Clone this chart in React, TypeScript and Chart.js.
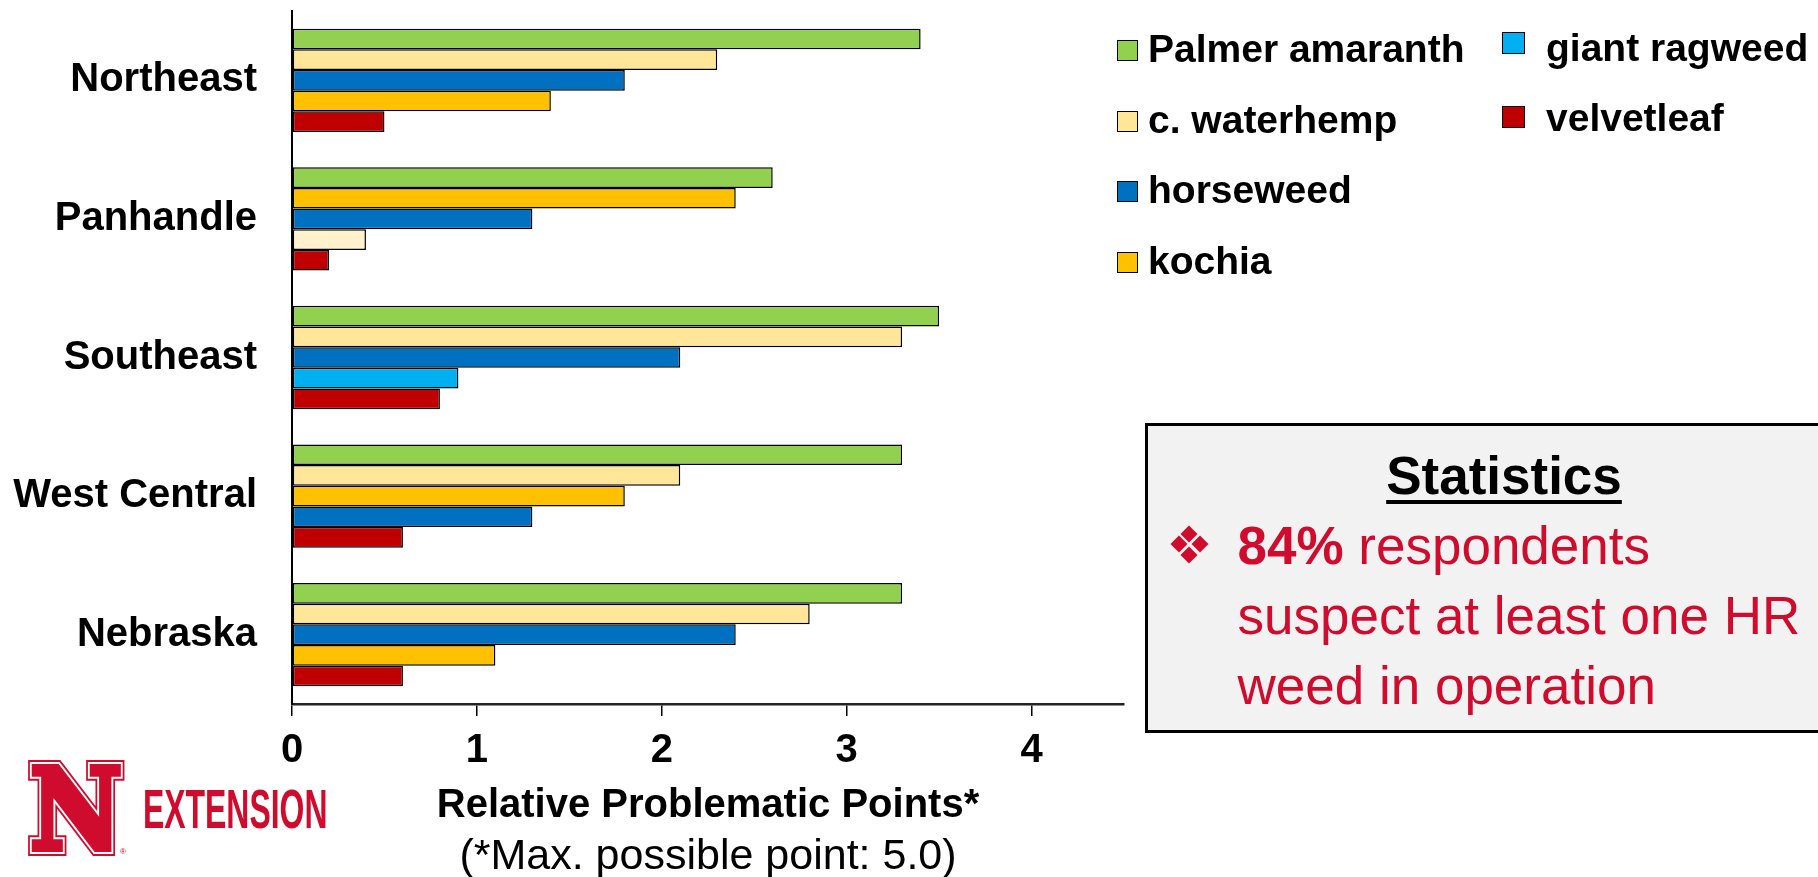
import React, { useEffect, useRef } from 'react';
import { Chart, registerables } from 'chart.js';

Chart.register(...registerables);

// ---------------- data ----------------
const categories = ['Northeast', 'Panhandle', 'Southeast', 'West Central', 'Nebraska'];
const seriesNames = ['Palmer amaranth', 'c. waterhemp', 'horseweed', 'kochia', 'giant ragweed', 'velvetleaf'];
const palmerAmaranth = [3.4, 2.6, 3.5, 3.3, 3.3];
const waterhemp = [2.3, 0.4, 3.3, 2.1, 2.8];
const horseweed = [1.8, 1.3, 2.1, 1.3, 2.4];
const kochia = [1.4, 2.4, null, 1.8, 1.1];
const giantRagweed = [null, null, 0.9, null, null];
const velvetleaf = [0.5, 0.2, 0.8, 0.6, 0.6];
// order of the bars (top to bottom) inside each region, as indexes into seriesNames
const barOrder = [
  [0, 1, 2, 3, 5],
  [0, 3, 2, 1, 5],
  [0, 1, 2, 4, 5],
  [0, 1, 3, 2, 5],
  [0, 1, 2, 3, 5],
];
const xTickValues = [0, 1, 2, 3, 4];
const xMax = 4.5;
const xTitle = 'Relative Problematic Points*';
const xSubtitle = '(*Max. possible point: 5.0)';

// ---------------- styles ----------------
const seriesValues = [palmerAmaranth, waterhemp, horseweed, kochia, giantRagweed, velvetleaf];
const seriesColors = ['#92D050', '#FFE699', '#0070C0', '#FFC000', '#00B0F0', '#C00000'];
const paleWaterhemp = '#FFF2CC';
const RED = '#D00C2E';
const FONT = '"Liberation Sans", Arial, Helvetica, sans-serif';

function colorFor(seriesIdx: number, catIdx: number) {
  if (seriesIdx === 1 && catIdx === 1) return paleWaterhemp;
  return seriesColors[seriesIdx];
}

const subtitlePlugin = {
  id: 'xSubtitle',
  afterDraw(chart: any) {
    const { ctx, chartArea } = chart;
    ctx.save();
    ctx.font = `43px ${FONT}`;
    ctx.fillStyle = '#000';
    ctx.textAlign = 'center';
    ctx.textBaseline = 'middle';
    ctx.fillText(xSubtitle, (chartArea.left + chartArea.right) / 2, 857);
    ctx.restore();
  },
};

function BarChart() {
  const ref = useRef<HTMLCanvasElement | null>(null);
  useEffect(() => {
    if (!ref.current) return;
    Chart.defaults.font.family = FONT;
    const slots = [0, 1, 2, 3, 4];
    const datasets = slots.map((s) => ({
      label: 'slot ' + (s + 1),
      data: categories.map((_, i) => seriesValues[barOrder[i][s]][i] as number),
      backgroundColor: categories.map((_, i) => colorFor(barOrder[i][s], i)),
      borderColor: '#000',
      borderWidth: 1.5,
      borderSkipped: false as any,
      categoryPercentage: 0.745,
      barPercentage: 1,
    }));
    const chart = new Chart(ref.current, {
      type: 'bar',
      data: { labels: categories, datasets },
      options: {
        indexAxis: 'y',
        animation: false,
        responsive: false,
        devicePixelRatio: 1,
        layout: { padding: { top: 11, right: 6, left: 0, bottom: 0 } },
        plugins: { legend: { display: false }, tooltip: { enabled: false } },
        scales: {
          x: {
            type: 'linear',
            min: 0,
            max: xMax,
            afterBuildTicks: (scale: any) => {
              scale.ticks = xTickValues.map((v) => ({ value: v }));
            },
            afterFit: (scale: any) => {
              scale.height = 173;
              scale.paddingLeft = 0;
              scale.paddingRight = 0;
            },
            grid: {
              display: true,
              drawOnChartArea: false,
              drawTicks: true,
              tickLength: 12,
              color: '#000',
              lineWidth: 1.5,
            },
            border: { display: true, color: '#222', width: 2.5 },
            ticks: {
              padding: 11,
              color: '#000',
              font: { size: 40, weight: 'bold' },
              maxRotation: 0,
            },
            title: {
              display: true,
              text: xTitle,
              color: '#000',
              font: { size: 40, weight: 'bold' },
              padding: { top: 0, bottom: 47 },
            },
          },
          y: {
            afterFit: (scale: any) => {
              scale.width = 292;
              scale.paddingTop = 0;
              scale.paddingBottom = 0;
            },
            grid: { display: false },
            border: { display: true, color: '#000', width: 2 },
            ticks: {
              padding: 27,
              color: '#000',
              font: { size: 40, weight: 'bold' },
            },
          },
        },
      } as any,
      plugins: [subtitlePlugin],
    });
    return () => chart.destroy();
  }, []);
  return (
    <canvas
      ref={ref}
      width={1130}
      height={877}
      style={{ position: 'absolute', left: 0, top: 0, width: 1130, height: 877 }}
    />
  );
}

// legend layout: [seriesIndex, squareLeft, squareTop, squareW, squareH, textLeft, baseline]
const legendLayout: [number, number, number, number, number, number, number][] = [
  [0, 1117, 40, 21, 21, 1148, 62],
  [1, 1117, 111, 21, 21, 1148, 133],
  [2, 1117, 181, 21, 21, 1148, 203],
  [3, 1117, 252, 21, 21, 1148, 273.5],
  [4, 1502, 32, 23, 22, 1546, 61],
  [5, 1502, 106, 23, 22, 1546, 131],
];

function Legend() {
  return (
    <>
      {legendLayout.map(([si, sl, st, sw, sh, tl, bl]) => (
        <React.Fragment key={si}>
          <div
            style={{
              position: 'absolute',
              left: sl,
              top: st,
              width: sw,
              height: sh,
              boxSizing: 'border-box',
              border: '1.5px solid #000',
              background: seriesColors[si],
            }}
          />
          <div
            style={{
              position: 'absolute',
              left: tl,
              top: bl - 36,
              font: `bold 39px/45px ${FONT}`,
              color: '#000',
              whiteSpace: 'nowrap',
            }}
          >
            {seriesNames[si]}
          </div>
        </React.Fragment>
      ))}
    </>
  );
}

function Diamond({ cx, cy }: { cx: number; cy: number }) {
  const s = 12;
  return (
    <div
      style={{
        position: 'absolute',
        left: cx - s / 2,
        top: cy - s / 2,
        width: s,
        height: s,
        background: RED,
        transform: 'rotate(45deg)',
      }}
    />
  );
}

function StatsBox() {
  const cx = 1189;
  const cy = 544;
  const d = 10.5;
  return (
    <>
      <div
        style={{
          position: 'absolute',
          left: 1145,
          top: 423,
          width: 720,
          height: 310,
          boxSizing: 'border-box',
          border: '3px solid #000',
          background: '#F2F2F2',
        }}
      />
      <div
        style={{
          position: 'absolute',
          left: 1304,
          width: 400,
          top: 445.6,
          textAlign: 'center',
          font: `bold 53px/60px ${FONT}`,
          color: '#000',
          textDecoration: 'underline',
          textDecorationThickness: '4px',
          textUnderlineOffset: '6px',
        }}
      >
        Statistics
      </div>
      <Diamond cx={cx} cy={cy - d} />
      <Diamond cx={cx - d} cy={cy} />
      <Diamond cx={cx + d} cy={cy} />
      <Diamond cx={cx} cy={cy + d} />
      <div
        style={{
          position: 'absolute',
          left: 1237.5,
          top: 510.6,
          font: `53px/70px ${FONT}`,
          color: RED,
          whiteSpace: 'nowrap',
        }}
      >
        <b>84%</b> respondents
        <br />
        suspect at least one HR
        <br />
        weed in operation
      </div>
    </>
  );
}

function Logo() {
  // glyph box: font 112px, cap height ~82px, baseline target ~849
  const nStyle: React.CSSProperties = {
    position: 'absolute',
    left: 30,
    top: 754,
    font: `bold 112px/112px "DejaVu Serif", serif`,
    color: RED,
    transform: 'scaleX(0.9)',
    transformOrigin: 'left top',
  };
  return (
    <>
      <div style={{ ...nStyle, WebkitTextStroke: `14px ${RED}` } as any}>N</div>
      <div style={{ ...nStyle, WebkitTextStroke: '10px #fff' } as any}>N</div>
      <div style={{ ...nStyle, WebkitTextStroke: `6px ${RED}` } as any}>N</div>
      <div
        style={{
          position: 'absolute',
          left: 120,
          top: 848,
          font: `8px/8px ${FONT}`,
          color: RED,
        }}
      >
        ®
      </div>
      <div
        style={{
          position: 'absolute',
          left: 143,
          top: 780.6,
          font: `bold 56px/56px ${FONT}`,
          color: RED,
          transform: 'scaleX(0.57)',
          transformOrigin: 'left top',
          whiteSpace: 'nowrap',
        }}
      >
        EXTENSION
      </div>
    </>
  );
}

export default function App() {
  return (
    <div
      style={{
        position: 'fixed',
        left: 0,
        top: 0,
        width: 1818,
        height: 877,
        overflow: 'hidden',
        background: '#fff',
      }}
    >
      <BarChart />
      <Legend />
      <StatsBox />
      <Logo />
    </div>
  );
}
